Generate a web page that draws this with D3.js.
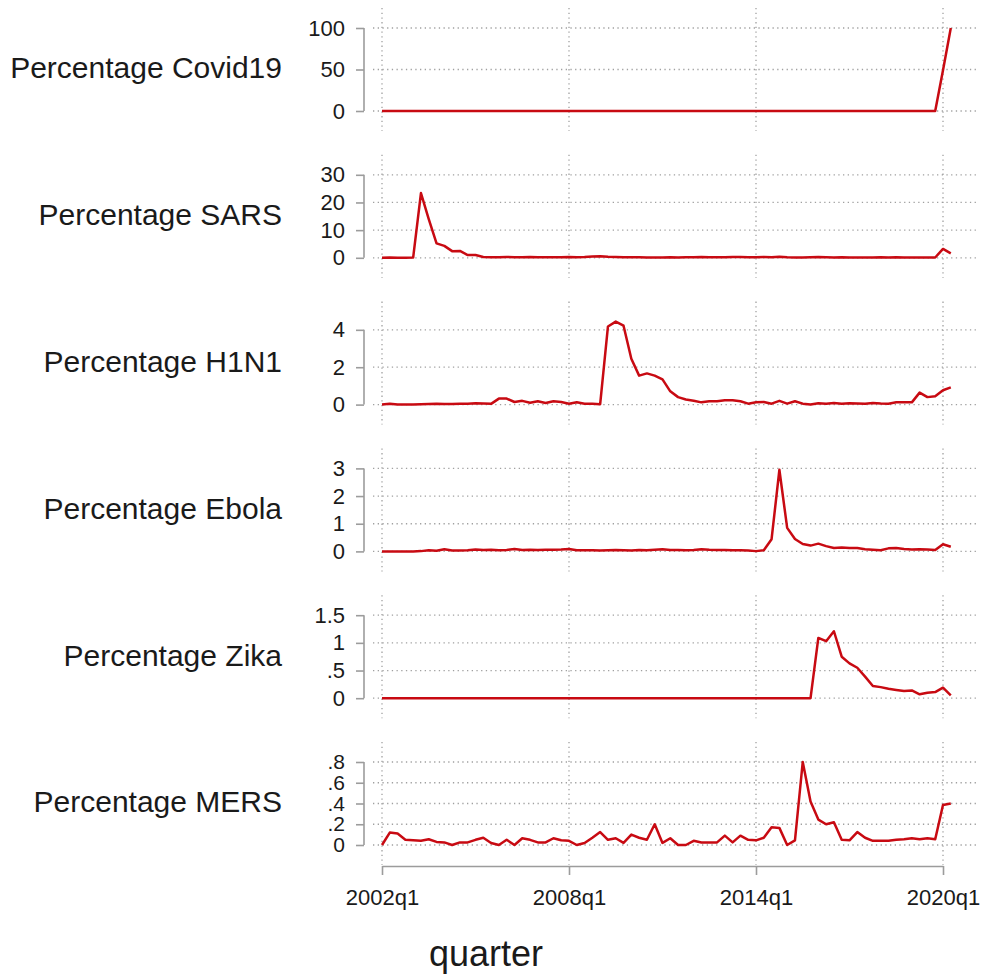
<!DOCTYPE html>
<html>
<head>
<meta charset="utf-8">
<script src="https://cdn.jsdelivr.net/npm/d3@7"></script>
<style>
  body { margin: 0; background: #fff; }
  text { font-family: "Liberation Sans", Arial, sans-serif; fill: #1a1a1a; }
</style>
</head>
<body>
<svg id="chart"></svg>
<script>
/*################
Data (2002q1 .. 2020q2, one value per quarter)
################*/
const xTickIdx = [0, 24, 48, 72];
const xTickLabels = ['2002q1', '2008q1', '2014q1', '2020q1'];

const panelNames = ['Percentage Covid19', 'Percentage SARS', 'Percentage H1N1',
    'Percentage Ebola', 'Percentage Zika', 'Percentage MERS'];

const covid = [
    0, 0, 0, 0, 0, 0, 0, 0, 0, 0, 0, 0, 0, 0, 0, 0, 0, 0, 0, 0,
    0, 0, 0, 0, 0, 0, 0, 0, 0, 0, 0, 0, 0, 0, 0, 0, 0, 0, 0, 0,
    0, 0, 0, 0, 0, 0, 0, 0, 0, 0, 0, 0, 0, 0, 0, 0, 0, 0, 0, 0,
    0, 0, 0, 0, 0, 0, 0, 0, 0, 0, 0, 0, 49, 100];

const sars = [
    0, 0.1, 0, 0, 0.1, 23.4, 14, 5.2, 4.3, 2.4, 2.5, 1.0, 1.0, 0.3,
    0.2, 0.2, 0.3, 0.2, 0.2, 0.3, 0.2, 0.2, 0.2, 0.2,
    0.3, 0.2, 0.3, 0.5, 0.6, 0.4, 0.3, 0.2, 0.2, 0.2,
    0.1, 0.1, 0.1, 0.2, 0.1, 0.2, 0.2, 0.3, 0.2, 0.2,
    0.2, 0.3, 0.3, 0.2, 0.2, 0.3, 0.2, 0.4, 0.2, 0.1,
    0.1, 0.2, 0.3, 0.2, 0.1, 0.2, 0.1, 0.1, 0.1, 0.1,
    0.2, 0.1, 0.2, 0.1, 0.1, 0.1, 0.1, 0.1,
    3.2, 1.6];

const h1n1 = [
    0, 0.05, 0, 0, 0, 0.02, 0.03, 0.04, 0.03, 0.03, 0.04, 0.05, 0.07, 0.06, 0.04,
    0.32, 0.32, 0.14, 0.2, 0.1, 0.18, 0.09, 0.18, 0.14, 0.05, 0.12, 0.05, 0.04, 0.02,
    4.18, 4.44, 4.22, 2.45, 1.55, 1.67, 1.55, 1.35, 0.71, 0.4, 0.27, 0.21, 0.12,
    0.18, 0.18, 0.23, 0.23, 0.18, 0.05, 0.12, 0.14, 0.05, 0.2, 0.05, 0.18, 0.05,
    0.0, 0.07, 0.05, 0.09, 0.05, 0.07, 0.06, 0.05, 0.08, 0.06, 0.05, 0.12, 0.12,
    0.12, 0.64, 0.4, 0.45, 0.77, 0.92];

const ebola = [
    0, 0, 0, 0, 0, 0.01, 0.04, 0.02, 0.08, 0.03, 0.03, 0.04, 0.07, 0.05, 0.06,
    0.04, 0.05, 0.09, 0.05, 0.06, 0.05, 0.06, 0.06, 0.07, 0.09, 0.04, 0.04, 0.04,
    0.03, 0.04, 0.05, 0.04, 0.03, 0.05, 0.04, 0.06, 0.08, 0.05, 0.05, 0.04, 0.05,
    0.08, 0.06, 0.05, 0.05, 0.04, 0.04, 0.03, 0.01, 0.04,
    0.44, 2.95, 0.85, 0.45, 0.27, 0.21, 0.28, 0.19, 0.12, 0.14, 0.12, 0.12,
    0.08, 0.06, 0.04, 0.11, 0.12, 0.09, 0.07, 0.08, 0.07, 0.05, 0.26, 0.17];

const zika = [
    0, 0, 0, 0, 0, 0, 0, 0, 0, 0, 0, 0, 0, 0, 0, 0, 0, 0, 0, 0,
    0, 0, 0, 0, 0, 0, 0, 0, 0, 0, 0, 0, 0, 0, 0, 0, 0, 0, 0, 0,
    0, 0, 0, 0, 0, 0, 0, 0, 0, 0, 0, 0, 0, 0, 0, 0,
    1.09, 1.03, 1.21, 0.75, 0.63, 0.55, 0.39, 0.22, 0.2, 0.17, 0.15, 0.13,
    0.14, 0.07, 0.1, 0.11, 0.19, 0.05];

const mers = [
    0, 0.12, 0.11, 0.05, 0.045, 0.04, 0.055, 0.03, 0.025, 0.0, 0.025, 0.025,
    0.05, 0.07, 0.02, 0.0, 0.05, 0.0, 0.065, 0.05, 0.025, 0.025, 0.065, 0.045,
    0.04, 0.0, 0.02, 0.07, 0.125, 0.05, 0.065, 0.02, 0.1, 0.07, 0.05, 0.2,
    0.02, 0.065, 0.0, 0.0, 0.04, 0.025, 0.025, 0.025, 0.09, 0.025, 0.09, 0.05,
    0.045, 0.07, 0.17, 0.165, 0.0, 0.045, 0.8, 0.42, 0.245, 0.2, 0.22, 0.05,
    0.045, 0.125, 0.07, 0.04, 0.04, 0.04, 0.05, 0.055, 0.065, 0.055, 0.065,
    0.055, 0.385, 0.4];

const series = [covid, sars, h1n1, ebola, zika, mers];
const yTicks = [
    [0, 50, 100],
    [0, 10, 20, 30],
    [0, 2, 4],
    [0, 1, 2, 3],
    [0, 0.5, 1, 1.5],
    [0, 0.2, 0.4, 0.6, 0.8]
];

/*################
Layout
################*/
const width = 984, height = 977;
const plotLeft = 373, plotRight = 976;
const axisX = 364;
const zeroTop = 111, panelStep = 146.8, rangeH = 83, pad = 20;
const lineColor = '#c80a12', axisColor = '#9c9c9c', gridColor = '#a0a0a0';

const svg = d3.select('#chart')
    .attr('width', width)
    .attr('height', height);

const x = d3.scaleLinear().domain([0, 72]).range([382, 943]);

// Stata style tick labels: .5 instead of 0.5
const fmt = d => String(d).replace(/^0\./, '.');

series.forEach((values, i) => {
    const y0 = zeroTop + i * panelStep;
    const ticks = yTicks[i];
    const yMax = Math.max(d3.max(ticks), d3.max(values));
    const y = d3.scaleLinear().domain([0, yMax]).range([y0, y0 - rangeH]);

    const g = svg.append('g').attr('class', 'panel');

    // vertical grid
    g.selectAll('.vgrid')
        .data(xTickIdx)
        .enter()
        .append('line')
        .attr('x1', d => x(d)).attr('x2', d => x(d))
        .attr('y1', y0 - rangeH - pad).attr('y2', y0 + pad)
        .attr('stroke', gridColor)
        .attr('stroke-width', 1.3)
        .attr('stroke-dasharray', '1.3,3.4');

    // horizontal grid
    g.selectAll('.hgrid')
        .data(ticks)
        .enter()
        .append('line')
        .attr('x1', plotLeft).attr('x2', plotRight)
        .attr('y1', d => y(d)).attr('y2', d => y(d))
        .attr('stroke', gridColor)
        .attr('stroke-width', 1.3)
        .attr('stroke-dasharray', '1.3,3.4');

    // y axis
    const ax = g.append('g')
        .attr('transform', `translate(${axisX},0)`)
        .call(d3.axisLeft(y).tickValues(ticks).tickFormat(fmt).tickSize(8).tickPadding(11));
    ax.select('.domain').remove();
    ax.append('line')
        .attr('x1', 0).attr('x2', 0)
        .attr('y1', y(0)).attr('y2', y(d3.max(ticks)))
        .attr('stroke', axisColor)
        .attr('stroke-width', 1.6);
    ax.selectAll('.tick line').attr('stroke', axisColor).attr('stroke-width', 1.6);
    ax.selectAll('.tick text')
        .style('font-size', i === 5 ? '21px' : '22px')
        .style('font-family', '"Liberation Sans", Arial, sans-serif')
        .attr('fill', '#1a1a1a');

    // panel title
    g.append('text')
        .attr('x', 282)
        .attr('y', y0 - rangeH / 2 + 1)
        .attr('text-anchor', 'end')
        .attr('dominant-baseline', 'middle')
        .style('font-size', '30px')
        .text(panelNames[i]);

    // series line
    g.append('path')
        .datum(values)
        .attr('fill', 'none')
        .attr('stroke', lineColor)
        .attr('stroke-width', 2.5)
        .attr('stroke-linejoin', 'round')
        .attr('d', d3.line().x((d, j) => x(j)).y(d => y(d)));
});

/*################
X axis
################*/
const xAxisY = zeroTop + 5 * panelStep + pad + 1;
const xa = svg.append('g')
    .attr('transform', `translate(0,${xAxisY})`)
    .call(d3.axisBottom(x)
        .tickValues(xTickIdx)
        .tickFormat((d, i) => xTickLabels[i])
        .tickSize(9)
        .tickSizeOuter(0)
        .tickPadding(14));
xa.select('.domain').attr('stroke', axisColor).attr('stroke-width', 1.6);
xa.selectAll('.tick line').attr('stroke', axisColor).attr('stroke-width', 1.6);
xa.selectAll('.tick text')
    .style('font-size', '22px')
    .style('font-family', '"Liberation Sans", Arial, sans-serif')
    .attr('fill', '#1a1a1a');

svg.append('text')
    .attr('x', 486)
    .attr('y', 966)
    .attr('text-anchor', 'middle')
    .style('font-size', '36px')
    .text('quarter');
</script>
</body>
</html>
